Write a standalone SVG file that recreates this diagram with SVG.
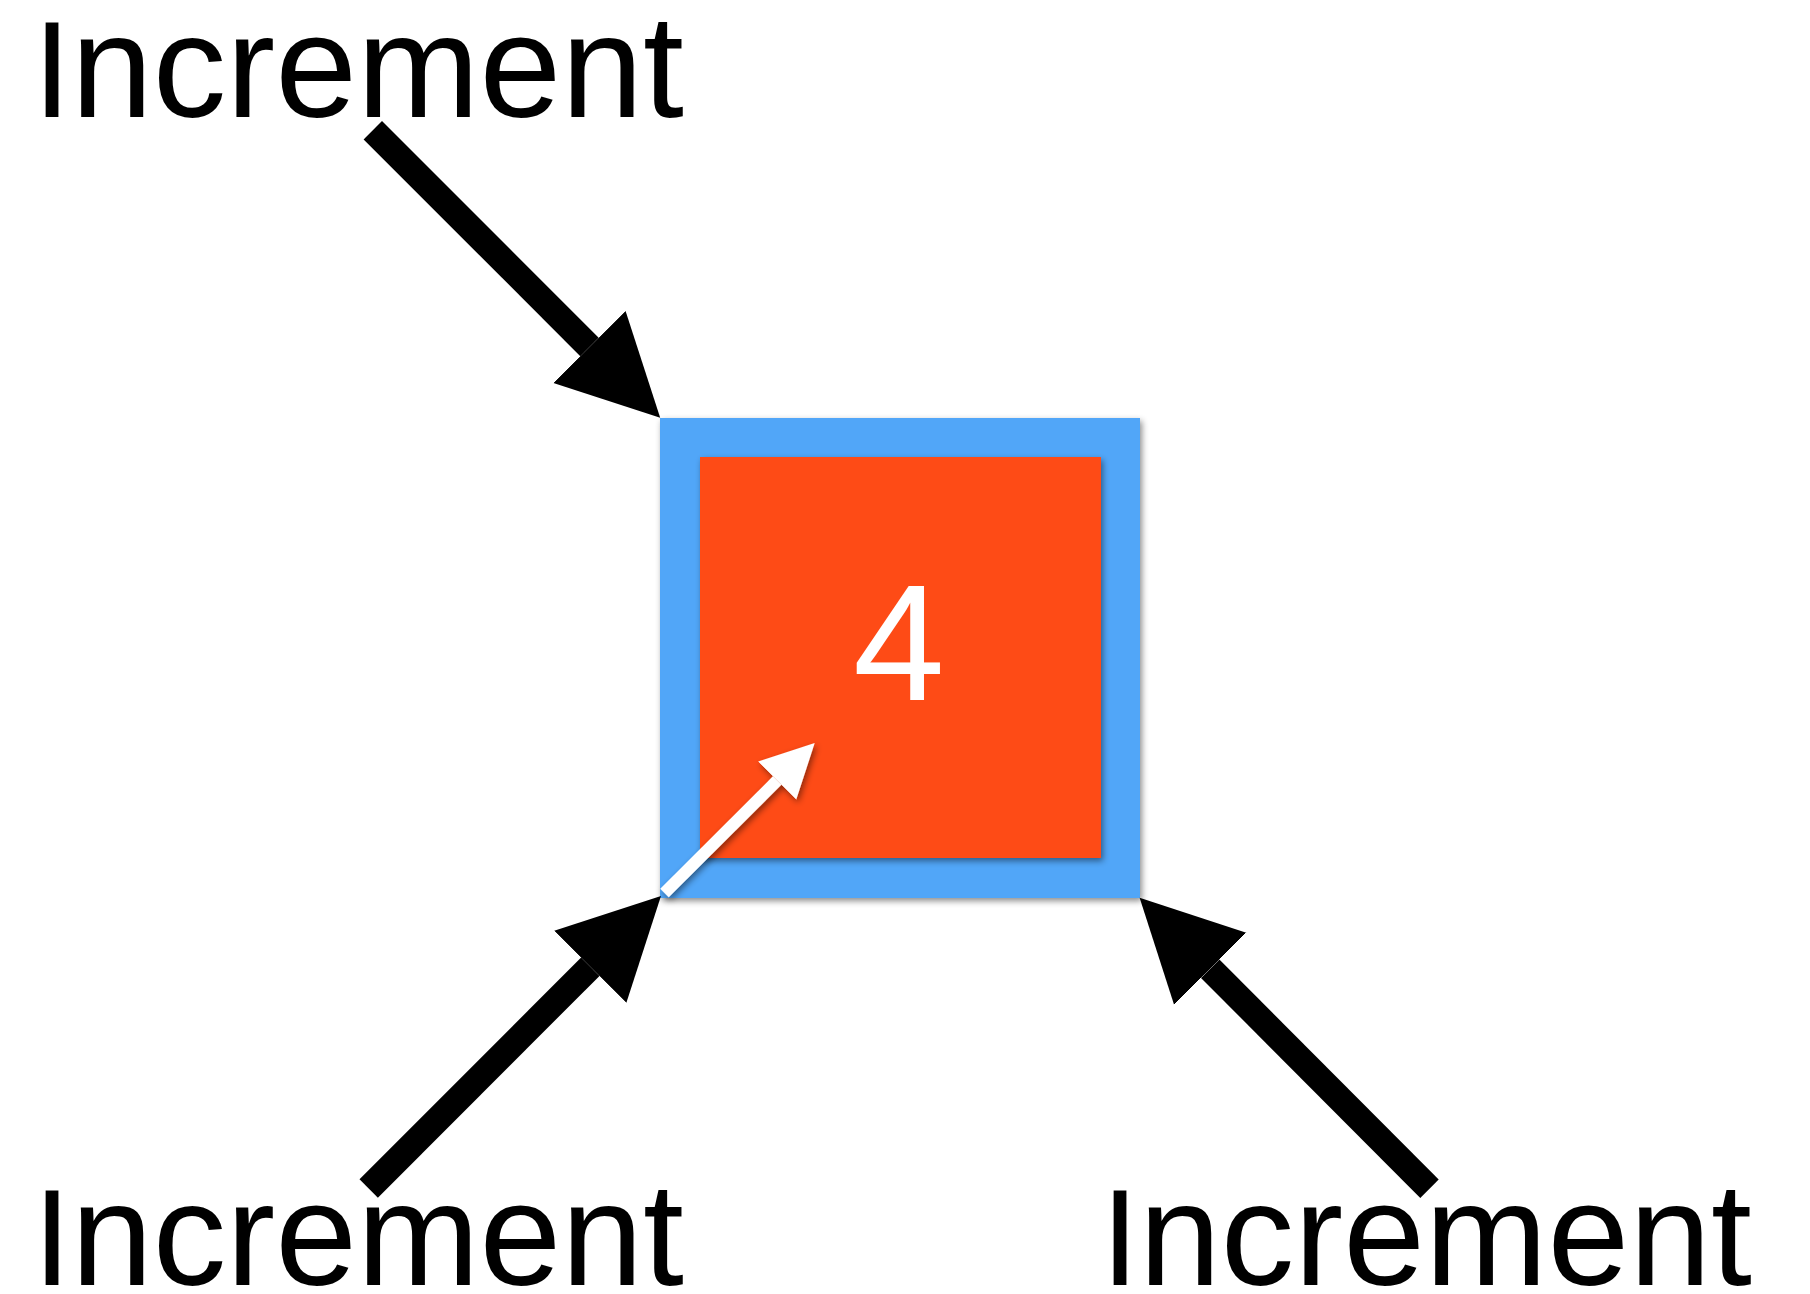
<svg xmlns="http://www.w3.org/2000/svg" width="1810" height="1294" viewBox="0 0 1810 1294">
  <defs>
    <style>
      .label { font-family: "Liberation Sans", Arial, Helvetica, sans-serif; font-size: 147px; fill: #000; }
      .cap { font-size: 137px; }
      .value { font-family: "Liberation Sans", Arial, Helvetica, sans-serif; font-size: 165px; fill: #fff; text-anchor: middle; }
      .shaft { stroke: #000; stroke-width: 26; fill: none; }
      .shaft-white { stroke: #fff; stroke-width: 12; fill: none; }
    </style>
    <marker id="head-black" markerUnits="userSpaceOnUse" markerWidth="102" markerHeight="104" viewBox="0 -52 102 104" refX="0" refY="0" orient="auto">
      <path d="M0,-51 L100,0 L0,51 Z" fill="#000"/>
    </marker>
    <marker id="head-white" markerUnits="userSpaceOnUse" markerWidth="56" markerHeight="56" viewBox="0 -28 56 56" refX="0" refY="0" orient="auto">
      <path d="M0,-27 L53,0 L0,27 Z" fill="#fff"/>
    </marker>
    <filter id="shadow" filterUnits="userSpaceOnUse" x="0" y="0" width="1810" height="1294">
      <feDropShadow dx="2" dy="3" stdDeviation="3" flood-color="#000" flood-opacity="0.45"/>
    </filter>
  </defs>

  <rect width="1810" height="1294" fill="#fff"/>

  <!-- counter cell: blue frame holding the orange value box -->
  <g id="counter">
    <rect x="660" y="418" width="480" height="480" fill="#51A6F8" filter="url(#shadow)"/>
    <rect x="700" y="457" width="401" height="401" fill="#FE4B19" filter="url(#shadow)"/>
    <text class="value" x="899" y="700">4</text>
  </g>

  <!-- labels -->
  <g id="increment-top">
    <text class="label" x="33" y="117"><tspan class="cap">I</tspan>ncrement</text>
  </g>
  <g id="increment-bottom-left">
    <text class="label" x="33" y="1285"><tspan class="cap">I</tspan>ncrement</text>
  </g>
  <g id="increment-bottom-right">
    <text class="label" x="1101" y="1285"><tspan class="cap">I</tspan>ncrement</text>
  </g>

  <!-- arrows -->
  <g id="connectors">
    <line class="shaft" x1="372.8" y1="130.2" x2="589.5" y2="347" marker-end="url(#head-black)"/>
    <line class="shaft" x1="368.7" y1="1188.5" x2="590.3" y2="966.7" marker-end="url(#head-black)"/>
    <line class="shaft" x1="1429.5" y1="1188.8" x2="1210.2" y2="968.7" marker-end="url(#head-black)"/>
    <g filter="url(#shadow)">
      <line class="shaft-white" x1="664.5" y1="893" x2="777.2" y2="780.5" marker-end="url(#head-white)"/>
    </g>
  </g>
</svg>
